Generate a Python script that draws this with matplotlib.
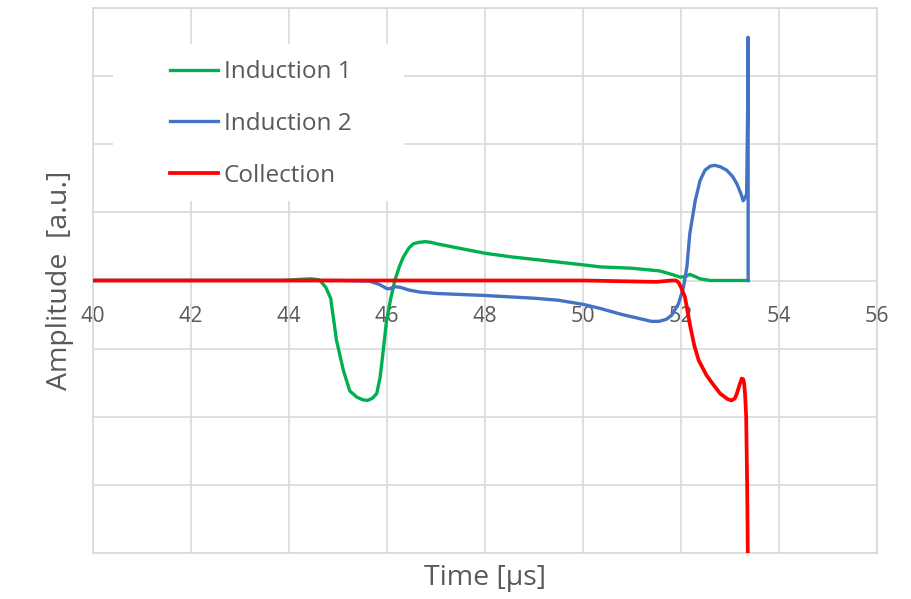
import numpy as np
import matplotlib
matplotlib.use("Agg")
import matplotlib.pyplot as plt
from matplotlib.patches import Rectangle

# Induction 1 (green)
ind1_t = [40, 43.9, 44.2, 44.45, 44.62, 44.75, 44.85, 44.97, 45.11, 45.24, 45.38, 45.5, 45.6,
          45.7, 45.79, 45.86, 45.92, 45.99, 46.08, 46.16, 46.25, 46.33, 46.45, 46.54, 46.65,
          46.78, 46.9, 47.01, 47.5, 48.0, 48.5, 49.0, 49.5, 50.0, 50.35, 51.0, 51.57, 51.81,
          51.98, 52.08, 52.18, 52.28, 52.39, 52.6, 53.0, 53.37]
ind1_a = [0, 0, 0.015, 0.025, 0.01, -0.1, -0.26, -0.88, -1.32, -1.62, -1.71, -1.75, -1.76,
          -1.73, -1.66, -1.42, -1.05, -0.59, -0.25, 0.0, 0.2, 0.34, 0.48, 0.54, 0.56,
          0.57, 0.56, 0.54, 0.47, 0.40, 0.35, 0.31, 0.27, 0.23, 0.20, 0.18, 0.14, 0.09,
          0.05, 0.055, 0.09, 0.06, 0.025, 0.0, 0.0, 0.0]

# Induction 2 (blue)
ind2_t = [40, 45.0, 45.65, 45.85, 46.0, 46.06, 46.15, 46.27, 46.45, 46.67, 47.0, 48.0, 49.0,
          49.5, 50.0, 50.35, 50.8, 51.16, 51.4, 51.55, 51.7, 51.81, 51.95, 52.05, 52.12,
          52.18, 52.29, 52.35, 52.39, 52.49, 52.6, 52.69, 52.8, 52.93, 53.05, 53.14, 53.22,
          53.27, 53.31, 53.34, 53.36, 53.37, 53.37]
ind2_a = [0, 0, -0.01, -0.06, -0.12, -0.12, -0.09, -0.1, -0.14, -0.17, -0.19, -0.22, -0.26,
          -0.29, -0.35, -0.41, -0.5, -0.56, -0.6, -0.6, -0.57, -0.51, -0.34, -0.1, 0.2,
          0.69, 1.17, 1.35, 1.47, 1.62, 1.68, 1.69, 1.67, 1.62, 1.53, 1.42, 1.28,
          1.17, 1.22, 1.27, 2.5, 3.57, 0.0]

# Collection (red)
coll_t = [40, 50.0, 51.5, 51.8, 51.9, 51.95, 52.0, 52.08, 52.18, 52.27, 52.36, 52.52, 52.65,
          52.8, 52.95, 53.03, 53.1, 53.14, 53.2, 53.24, 53.27, 53.29, 53.31, 53.33, 53.35,
          53.37, 53.37]
coll_a = [0, 0, -0.02, 0.0, 0.0, -0.03, -0.1, -0.24, -0.64, -0.95, -1.17, -1.39, -1.52,
          -1.66, -1.74, -1.76, -1.73, -1.66, -1.52, -1.44, -1.45, -1.52, -1.7, -2.0, -3.0,
          -4.5, -4.5]

xticks = [40, 42, 44, 46, 48, 50, 52, 54, 56]

grey = '#595959'
gridc = '#d9d9d9'

plt.rcParams['font.family'] = ['Open Sans', 'DejaVu Sans']

fig = plt.figure(figsize=(9.12, 5.99), dpi=100)
ax = fig.add_axes([93/912, 46/599, 784/912, 545/599])

ax.plot(ind1_t, ind1_a, color='#00B050', lw=2.4, label='Induction 1', zorder=3)
ax.plot(ind2_t, ind2_a, color='#4472C4', lw=2.4, label='Induction 2', zorder=3)
ax.plot(coll_t, coll_a, color='#FF0000', lw=2.7, label='Collection', zorder=3)

ax.set_xlim(40, 56)
ax.set_ylim(-4, 4)
ax.set_xticks(xticks)
ax.set_yticks(np.arange(-4, 5, 1))
ax.grid(True, color=gridc, lw=1.2, zorder=0)
ax.set_axisbelow(True)
for s in ax.spines.values():
    s.set_color(gridc)
    s.set_linewidth(1.2)
ax.tick_params(length=0, labelbottom=False, labelleft=False)

# tick labels sitting just under the zero line
sec = ax.secondary_xaxis(0.5)
sec.xaxis.set_ticks_position('bottom')
sec.set_xticks(xticks)
sec.tick_params(length=0, pad=18, labelsize=15.5, labelcolor=grey,
                labelbottom=True, labeltop=False)
for s in sec.spines.values():
    s.set_visible(False)

ax.set_xlabel('Time [µs]', fontsize=20.5, color=grey, labelpad=8)
ax.set_ylabel('Amplitude  [a.u.]', fontsize=20.5, color=grey, labelpad=14)

# white legend background
ax.add_patch(Rectangle((40.41, 1.17), 5.94, 2.30, facecolor='white', edgecolor='none', zorder=1))
leg = ax.legend(loc='center left', bbox_to_anchor=(170/912, 1 - 124/599),
                bbox_transform=fig.transFigure, frameon=False, fontsize=17.5,
                handlelength=1.97, handletextpad=0.25, labelspacing=1.14,
                borderpad=0, borderaxespad=0)
for t in leg.get_texts():
    t.set_color(grey)

fig.savefig('out.png', dpi=100)
